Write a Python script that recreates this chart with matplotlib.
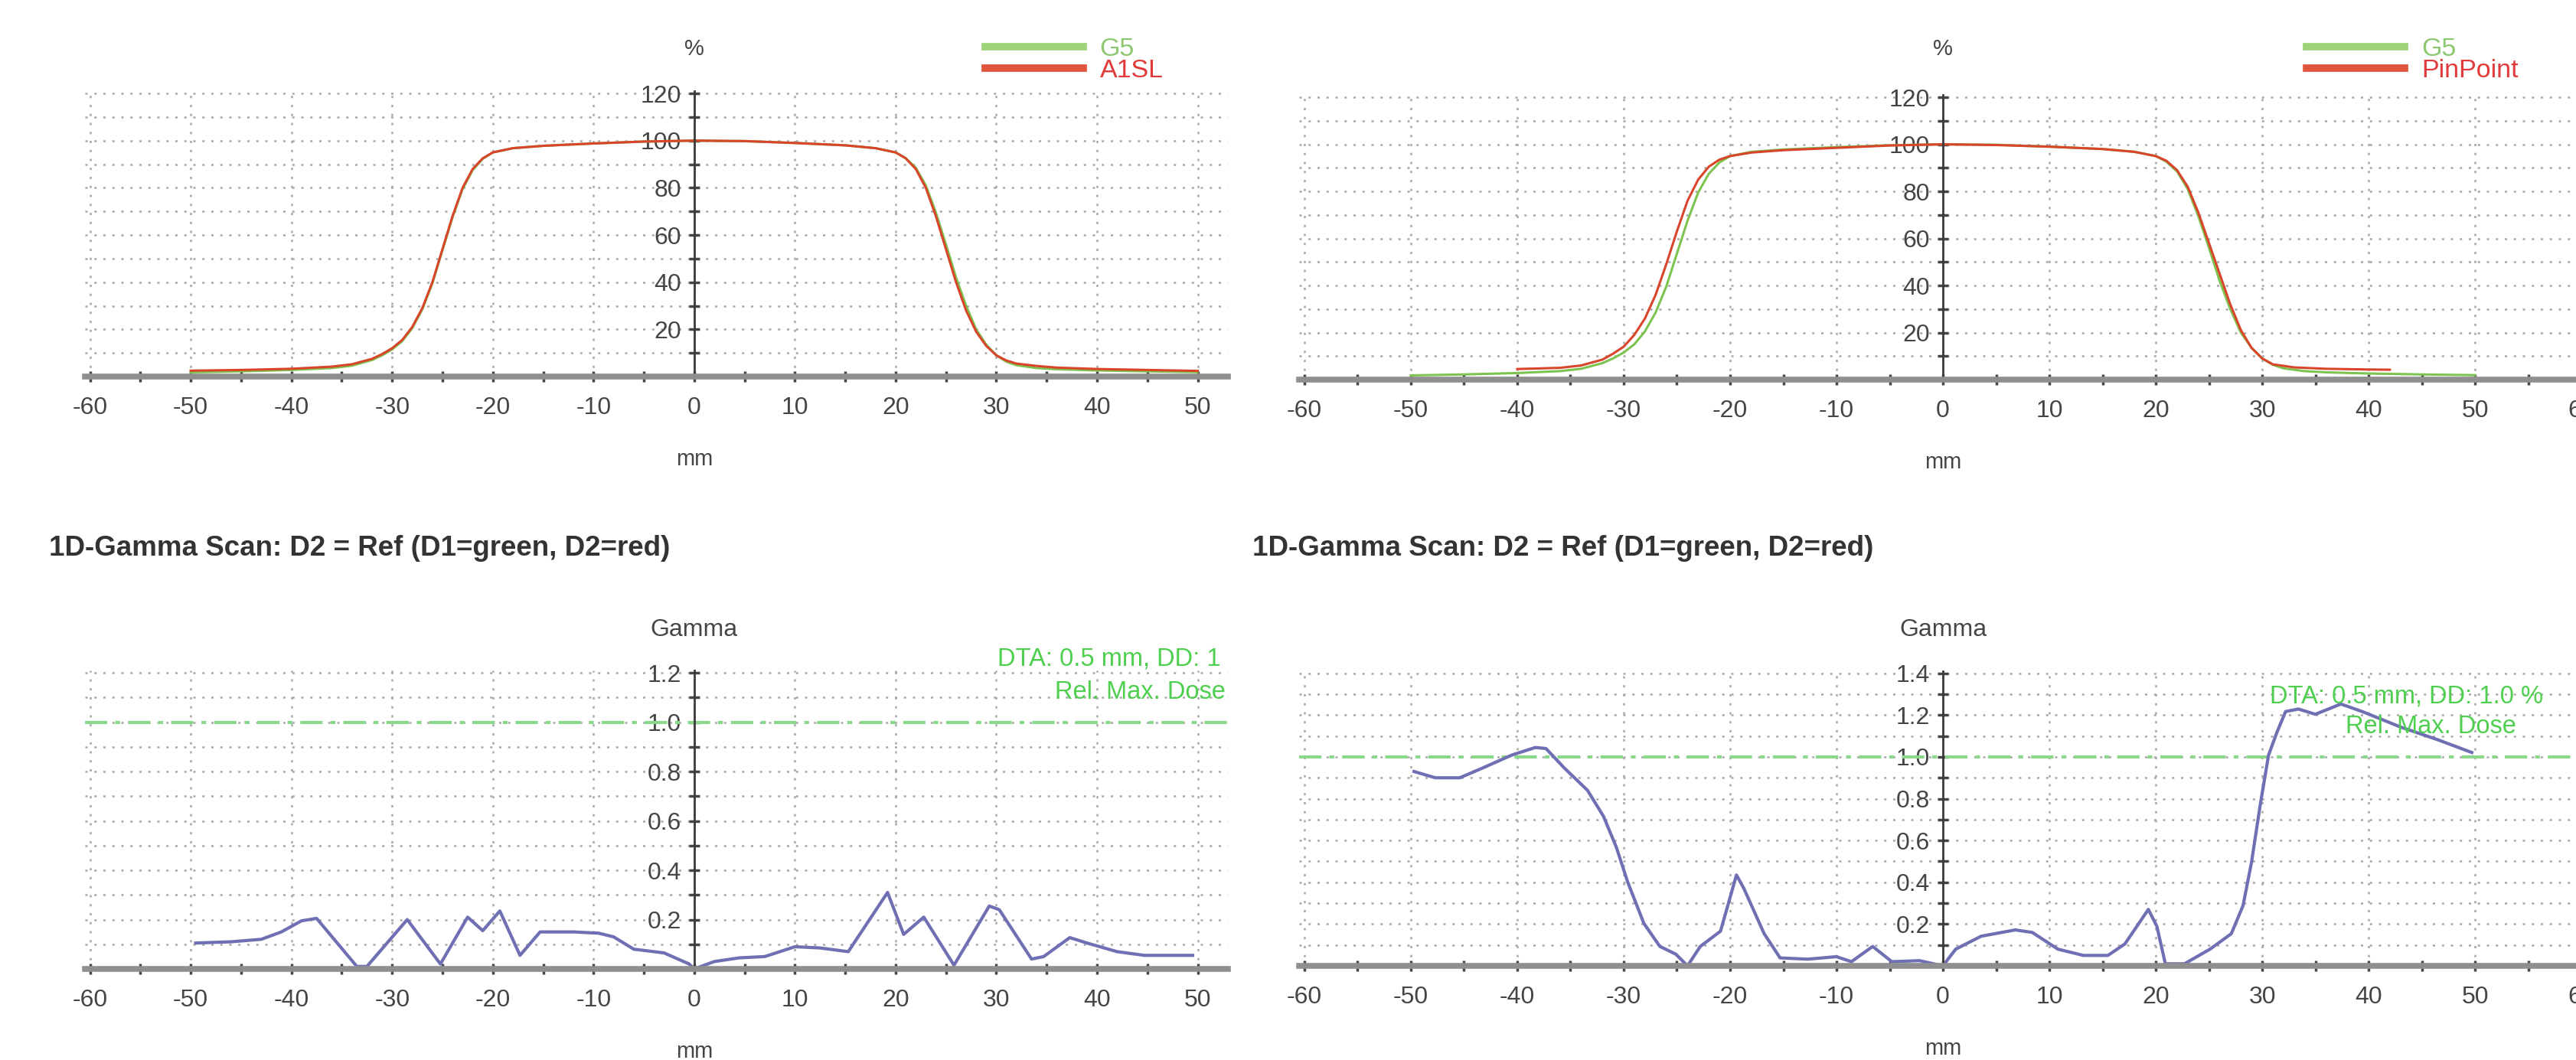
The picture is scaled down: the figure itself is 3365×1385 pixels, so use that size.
"""Perfis de dose (G5 x A1SL / PinPoint) e 1D-Gamma correspondente."""
import matplotlib
matplotlib.use("Agg")
import matplotlib.pyplot as plt
from matplotlib.lines import Line2D
from matplotlib.ticker import MultipleLocator, FuncFormatter

plt.rcParams["font.family"] = ["Liberation Sans", "DejaVu Sans"]

# ---- dados ----
g5_mm = [-50, -45, -40, -36, -34, -32, -31, -30, -29, -28, -27, -26, -25, -24, -23,
         -22, -21, -20, -18, -15, -10, -5, 0, 5, 10, 15, 18, 20, 21, 22, 23, 24, 25,
         26, 27, 28, 29, 30, 31, 32, 34, 36, 40, 45, 50]
g5_pct = [1.8, 2.2, 2.8, 3.6, 4.6, 7.0, 9.0, 11.5, 15.0, 20.5, 28.5, 39.5, 53.5, 67.5,
          79.5, 87.5, 92.3, 95.0, 96.8, 97.8, 98.8, 99.6, 100.0, 99.8, 99.0, 98.0,
          96.8, 95.0, 92.6, 88.5, 81.0, 69.5, 56.0, 42.0, 30.0, 20.0, 13.5, 9.0, 6.3,
          4.8, 3.6, 3.1, 2.6, 2.2, 1.9]

a1sl_mm = [-50, -45, -40, -36, -34, -32, -31, -30, -29, -28, -27, -26, -25, -24, -23,
           -22, -21, -20, -18, -15, -10, -5, 0, 5, 10, 15, 18, 20, 21, 22, 23, 24, 25,
           26, 27, 28, 29, 30, 31, 32, 34, 36, 40, 45, 50]
a1sl_pct = [2.5, 2.8, 3.3, 4.2, 5.2, 7.5, 9.5, 12.0, 15.5, 21.0, 29.0, 40.0, 54.0, 68.0,
            80.0, 88.0, 92.5, 95.0, 96.8, 97.8, 98.8, 99.6, 100.0, 99.8, 99.0, 98.0,
            96.8, 95.0, 92.5, 88.0, 80.0, 68.0, 54.0, 40.0, 28.0, 19.0, 13.0, 9.0, 6.8,
            5.5, 4.5, 3.8, 3.2, 2.8, 2.4]

pin_mm = [-40, -36, -34, -32, -31, -30, -29, -28, -27, -26, -25, -24, -23, -22, -21,
          -20, -18, -15, -10, -5, 0, 5, 10, 15, 18, 20, 21, 22, 23, 24, 25, 26, 27,
          28, 29, 30, 31, 33, 36, 40, 42]
pin_pct = [4.5, 5.0, 6.0, 8.5, 11.0, 14.0, 19.0, 26.0, 36.0, 49.0, 63.0, 76.0, 85.0,
           90.5, 93.5, 95.0, 96.5, 97.5, 98.5, 99.5, 100.0, 99.7, 99.0, 98.0, 96.8,
           95.0, 93.0, 89.0, 82.0, 71.0, 58.0, 45.0, 32.0, 21.0, 13.5, 9.0, 6.5, 5.2,
           4.6, 4.3, 4.2]

gam_a1sl_mm = [-49.5, -46, -43, -41, -39, -37.5, -33.5, -32.5, -28.5, -25.2, -22.5, -21,
               -19.3, -17.3, -15.3, -12, -9.5, -8, -6, -3, -0.5, 0, 2, 4.5, 7, 10, 12.5,
               15.3, 19.2, 20.8, 22.8, 25.8, 29.3, 30.3, 33.5, 34.7, 37.3, 39, 42, 44.7,
               48.6, 49.5]
gam_a1sl = [0.105, 0.11, 0.12, 0.15, 0.195, 0.205, 0.01, 0.01, 0.2, 0.02, 0.21, 0.155,
            0.235, 0.055, 0.15, 0.15, 0.145, 0.13, 0.08, 0.065, 0.02, 0.0, 0.03, 0.045,
            0.05, 0.09, 0.085, 0.07, 0.31, 0.14, 0.21, 0.015, 0.255, 0.24, 0.04, 0.05,
            0.127, 0.105, 0.07, 0.055, 0.055, 0.055]

gam_pin_mm = [-49.7, -47.7, -45.4, -43.2, -40.5, -38.3, -37.3, -35.6, -33.4, -31.9, -30.7,
              -29.6, -28.1, -26.6, -25.1, -24.0, -22.8, -20.9, -19.4, -18.7, -16.8,
              -15.3, -12.7, -10.0, -8.6, -6.6, -4.8, -2.2, 0.0, 1.2, 3.6, 6.8, 8.4, 10.8,
              13.2, 15.5, 17.1, 19.3, 20.1, 20.9, 22.7, 25.1, 27.1, 28.2, 29.0, 29.8,
              30.6, 31.4, 32.2, 33.4, 35.0, 37.4, 39.4, 43.0, 46.5, 49.7]
gam_pin = [0.93, 0.90, 0.90, 0.948, 1.009, 1.045, 1.04, 0.948, 0.84, 0.716, 0.569, 0.398,
           0.203, 0.093, 0.056, 0.0, 0.093, 0.166, 0.435, 0.37, 0.154, 0.038, 0.032,
           0.044, 0.02, 0.093, 0.02, 0.025, 0.0, 0.08, 0.142, 0.172, 0.16, 0.08, 0.05,
           0.05, 0.105, 0.27, 0.19, 0.01, 0.01, 0.08, 0.154, 0.288, 0.496, 0.765, 1.009,
           1.119, 1.217, 1.229, 1.204, 1.253, 1.217, 1.143, 1.082, 1.021]

titulo_gamma = "1D-Gamma Scan: D2 = Ref (D1=green, D2=red)"

# ---- estilo ----
W, H = 3366, 1385
VERDE = "#7cc34f"
VERMELHO = "#d9452b"
AZUL = "#6f6fb3"
VERDE_TXT = "#4fcf4f"
CINZA_TXT = "#454545"
FS_TICK = 23


def _eixos(rect_px, xlim, ylim, y_maj, y_min, fmt):
    """Cria eixo no estilo VeriSoft: eixos cruzando em 0, grade pontilhada."""
    x0, y_top, x1, y_bot = rect_px
    ax = fig.add_axes([x0 / W, 1 - y_bot / H, (x1 - x0) / W, (y_bot - y_top) / H])
    ax.set_xlim(*xlim)
    ax.set_ylim(*ylim)
    for s in ("top", "right"):
        ax.spines[s].set_visible(False)
    ax.spines["left"].set_position(("data", 0))
    ax.spines["left"].set_color("#3a3a3a")
    ax.spines["left"].set_linewidth(2.0)
    ax.spines["bottom"].set_color("#8f8f8f")
    ax.spines["bottom"].set_linewidth(5.5)
    ax.xaxis.set_major_locator(MultipleLocator(10))
    ax.xaxis.set_minor_locator(MultipleLocator(5))
    ax.yaxis.set_major_locator(MultipleLocator(y_maj))
    ax.yaxis.set_minor_locator(MultipleLocator(y_min))
    ax.xaxis.set_major_formatter(FuncFormatter(lambda v, p: f"{v:.0f}"))
    ax.yaxis.set_major_formatter(
        FuncFormatter(lambda v, p: "" if abs(v) < 1e-9 else fmt.format(v)))
    ax.tick_params(axis="both", which="both", direction="inout", color=CINZA_TXT,
                   width=2.5, length=10, labelsize=FS_TICK, labelcolor=CINZA_TXT)
    ax.tick_params(axis="x", which="both", pad=14)
    ax.tick_params(axis="y", which="both", pad=7)
    ax.grid(axis="x", which="major", ls=(0, (1.2, 3.5)), color="#a8a8a8", lw=1.8)
    ax.grid(axis="y", which="both", ls=(0, (1.2, 3.5)), color="#a8a8a8", lw=1.8)
    ax.set_axisbelow(True)
    ax.set_facecolor("none")
    ax.annotate("mm", xy=(0, 0), xytext=(0, -108), textcoords="offset pixels",
                ha="center", va="center", fontsize=21, color=CINZA_TXT)
    return ax


def _legenda(ax, nomes, xy):
    h = [Line2D([], [], color="#9fd37a", lw=7), Line2D([], [], color="#e0563c", lw=7)]
    ax.legend(h, nomes, loc="center left", bbox_to_anchor=xy,
              bbox_transform=ax.transData, frameon=False, fontsize=24.5,
              handlelength=3.75, handletextpad=0.65, labelspacing=-0.1,
              borderpad=0, borderaxespad=0, labelcolor=["#8cc870", "#e03a3a"])


fig = plt.figure(figsize=(W / 100, H / 100), dpi=100)

# perfil esquerdo (A1SL)
ax1 = _eixos((111, 119, 1604, 492), (-60.5, 53), (0, 121), 20, 10, "{:.0f}")
ax1.plot(g5_mm, g5_pct, color=VERDE, lw=2.2)
ax1.plot(a1sl_mm, a1sl_pct, color=VERMELHO, lw=2.2)
ax1.annotate("%", xy=(0, 121), xytext=(0, 55), textcoords="offset pixels",
             ha="center", va="center", fontsize=21, color=CINZA_TXT)
_legenda(ax1, ["G5", "A1SL"], (28.9, 134.1))

# perfil direito (PinPoint)
ax2 = _eixos((1697, 124, 3386, 496), (-60.5, 61), (0, 121), 20, 10, "{:.0f}")
ax2.plot(g5_mm, g5_pct, color=VERDE, lw=2.2)
ax2.plot(pin_mm, pin_pct, color=VERMELHO, lw=2.2)
ax2.annotate("%", xy=(0, 121), xytext=(0, 60), textcoords="offset pixels",
             ha="center", va="center", fontsize=21, color=CINZA_TXT)
_legenda(ax2, ["G5", "PinPoint"], (34.2, 135.8))

# gamma esquerdo
ax3 = _eixos((111, 876, 1604, 1266), (-60.5, 53), (0, 1.21), 0.2, 0.1, "{:.1f}")
ax3.axhline(1.0, color="#8ad88a", lw=3, ls=(0, (7, 2.5, 1.5, 2.5)), zorder=1.5)
ax3.plot(gam_a1sl_mm, gam_a1sl, color=AZUL, lw=3)
ax3.annotate("Gamma", xy=(0, 1.21), xytext=(0, 53), textcoords="offset pixels",
             ha="center", va="center", fontsize=23, color=CINZA_TXT)
ax3.text(30.1, 1.258, "DTA: 0.5 mm, DD: 1", ha="left", va="center",
         fontsize=23.5, color=VERDE_TXT, clip_on=False)
ax3.text(52.8, 1.121, "Rel. Max. Dose", ha="right", va="center",
         fontsize=23.5, color=VERDE_TXT)

# gamma direito
ax4 = _eixos((1697, 877, 3386, 1262), (-60.5, 61), (0, 1.41), 0.2, 0.1, "{:.1f}")
ax4.axhline(1.0, color="#8ad88a", lw=3, ls=(0, (7, 2.5, 1.5, 2.5)), zorder=1.5)
ax4.plot(gam_pin_mm, gam_pin, color=AZUL, lw=3)
ax4.annotate("Gamma", xy=(0, 1.41), xytext=(0, 54), textcoords="offset pixels",
             ha="center", va="center", fontsize=23, color=CINZA_TXT)
ax4.text(30.7, 1.29, "DTA: 0.5 mm, DD: 1.0 %", ha="left", va="center",
         fontsize=23.5, color=VERDE_TXT, clip_on=False)
ax4.text(53.9, 1.143, "Rel. Max. Dose", ha="right", va="center",
         fontsize=23.5, color=VERDE_TXT)

fig.text(64 / W, 1 - 716 / H, titulo_gamma, ha="left", va="center",
         fontsize=26.5, fontweight="bold", color="#333333")
fig.text(1636 / W, 1 - 716 / H, titulo_gamma, ha="left", va="center",
         fontsize=26.5, fontweight="bold", color="#333333")

fig.savefig("out.png", dpi=100, facecolor="white")
